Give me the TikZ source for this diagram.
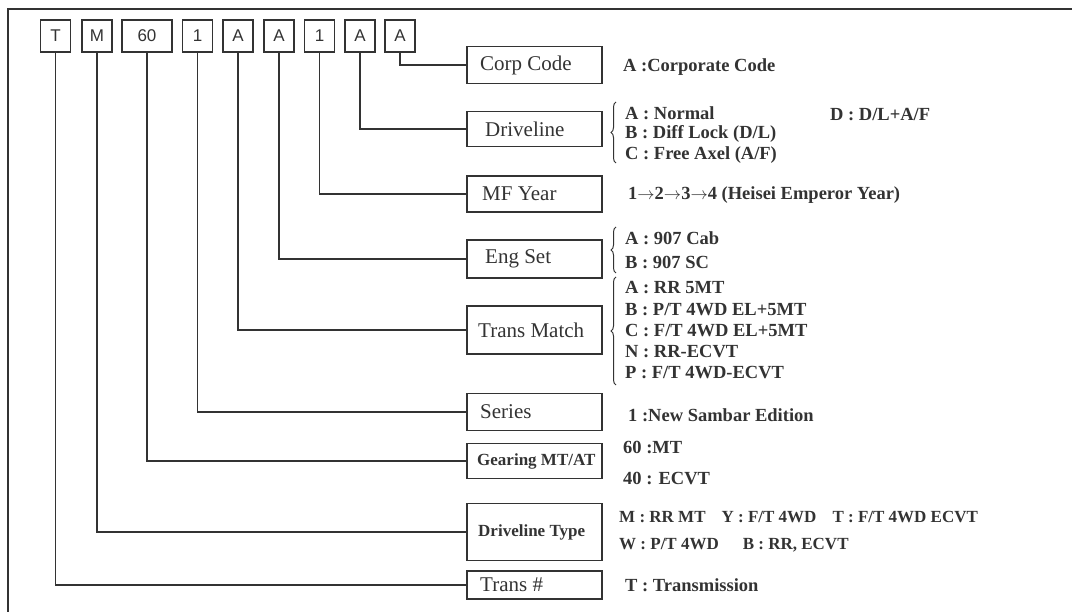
\documentclass[tikz,border=0pt]{standalone}
\usepackage{fontspec}
\setmainfont{Liberation Serif}
\newfontfamily\codefont{Liberation Sans}
\usetikzlibrary{decorations.pathreplacing}
\definecolor{ink}{HTML}{333333}
\tikzset{
  cbox/.style={draw=ink, line width=1.6pt, minimum height=32pt, minimum width=30pt, inner sep=0pt, font=\codefont\fontsize{17}{17}\selectfont, text=ink},
  lbox/.style={draw=ink, line width=1.8pt, minimum width=135pt, inner sep=0pt, anchor=west},
  ltext/.style={anchor=west, inner sep=0pt, text=ink, font=\fontsize{21}{21}\selectfont},
  stext/.style={anchor=west, inner sep=0pt, text=ink, font=\fontsize{17}{17}\selectfont\bfseries},
  rtext/.style={anchor=west, inner sep=0pt, text=ink, font=\fontsize{18.5}{18.5}\selectfont\bfseries},
  dtext/.style={anchor=west, inner sep=0pt, text=ink, font=\fontsize{17}{17}\selectfont\bfseries},
  conn/.style={draw=ink, line width=1.4pt},
  curly/.style={draw=ink, line width=1pt, decorate, decoration={brace, amplitude=5pt}},
}
\begin{document}
\begin{tikzpicture}[x=1pt, y=-1pt]
\useasboundingbox (0,0) rectangle (1072,612);
% frame
\draw[ink, line width=2pt] (8,612) -- (8,9) -- (1072,9);
% code boxes
\node[cbox] (cT)  at (55.5,36) {T};
\node[cbox] (cM)  at (97,36) {M};
\node[cbox, minimum width=50pt] (c60) at (147,36) {60};
\node[cbox] (c1a) at (197.5,36) {1};
\node[cbox] (cA1) at (238,36) {A};
\node[cbox] (cA2) at (279,36) {A};
\node[cbox] (c1b) at (319.5,36) {1};
\node[cbox] (cA3) at (360,36) {A};
\node[cbox] (cA4) at (400,36) {A};
% label boxes
\node[lbox, minimum height=37pt] (corp) at (466,65) {};
\node[ltext] (corpT) at ([xshift=14pt]corp.west) {Corp Code};
\node[lbox, minimum height=35pt] (drv) at (466,129) {};
\node[ltext] (drvT) at ([xshift=19pt]drv.west) {Driveline};
\node[lbox, minimum height=36pt] (mfy) at (466,194) {};
\node[ltext] (mfyT) at ([xshift=16pt]mfy.west) {MF Year};
\node[lbox, minimum height=38pt] (eng) at (466,259) {};
\node[ltext] (engT) at ([xshift=19pt]eng.west) {Eng Set};
\node[lbox, minimum height=48pt] (tm) at (466,330) {};
\node[ltext] (tmT) at ([xshift=12pt]tm.west) {Trans Match};
\node[lbox, minimum height=37pt] (ser) at (466,412) {};
\node[ltext] (serT) at ([xshift=14pt]ser.west) {Series};
\node[lbox, minimum height=35pt] (gear) at (466,461) {};
\node[stext] (gearT) at ([xshift=11pt]gear.west) {Gearing MT/AT};
\node[lbox, minimum height=57pt] (dt) at (466,532) {};
\node[stext] (dtT) at ([xshift=12pt]dt.west) {Driveline Type};
\node[lbox, minimum height=28pt] (tn) at (466,585) {};
\node[ltext] (tnT) at ([xshift=14pt]tn.west) {Trans \#};
% connectors
\draw[conn] (cA4.south) |- (corp.west);
\draw[conn] (cA3.south) |- (drv.west);
\draw[conn] (c1b.south) |- (mfy.west);
\draw[conn] (cA2.south) |- (eng.west);
\draw[conn] (cA1.south) |- (tm.west);
\draw[conn] (c1a.south) |- (ser.west);
\draw[conn] (c60.south) |- (gear.west);
\draw[conn] (cM.south) |- (dt.west);
\draw[conn] (cT.south) |- (tn.west);
% right texts
\node[rtext] (t1) at (623,67) {A :Corporate Code};
\coordinate (b1a) at (616,163); \coordinate (b1b) at (616,102);
\draw[curly] (b1a) -- (b1b);
\node[rtext] (t2a) at (625,113) {A : Normal};
\node[rtext] (t2b) at (625,134) {B : Diff Lock (D/L)};
\node[rtext] (t2c) at (625,155) {C : Free Axel (A/F)};
\node[rtext] (t2d) at (830,115) {D : D/L+A/F};
\node[rtext] (t3) at (628,195) {1$\rightarrow$2$\rightarrow$3$\rightarrow$4 (Heisei Emperor Year)};
\coordinate (b2a) at (616,273); \coordinate (b2b) at (616,227);
\draw[curly] (b2a) -- (b2b);
\node[rtext] (t4a) at (625,238) {A : 907 Cab};
\node[rtext] (t4b) at (625,262) {B : 907 SC};
\coordinate (b3a) at (616,385); \coordinate (b3b) at (616,277);
\draw[curly] (b3a) -- (b3b);
\node[rtext] (t5a) at (625,288) {A : RR 5MT};
\node[rtext] (t5b) at (625,310) {B : P/T 4WD EL+5MT};
\node[rtext] (t5c) at (625,331) {C : F/T 4WD EL+5MT};
\node[rtext] (t5d) at (625,352) {N : RR-ECVT};
\node[rtext] (t5e) at (625,373) {P : F/T 4WD-ECVT};
\node[rtext] (t6) at (628,415) {1 :New Sambar Edition};
\node[rtext] (t7a) at (623,447) {60 :MT};
\node[rtext] (t7b) at (623,478) {40 : ECVT};
\node[dtext] (t8a) at (619,517) {M : RR MT\hspace{16pt}Y : F/T 4WD\hspace{16pt}T : F/T 4WD ECVT};
\node[dtext] (t8b) at (619,545) {W : P/T 4WD\hspace{24pt}B : RR, ECVT};
\node[rtext] (t9) at (625,585) {T : Transmission};
\end{tikzpicture}
\end{document}
